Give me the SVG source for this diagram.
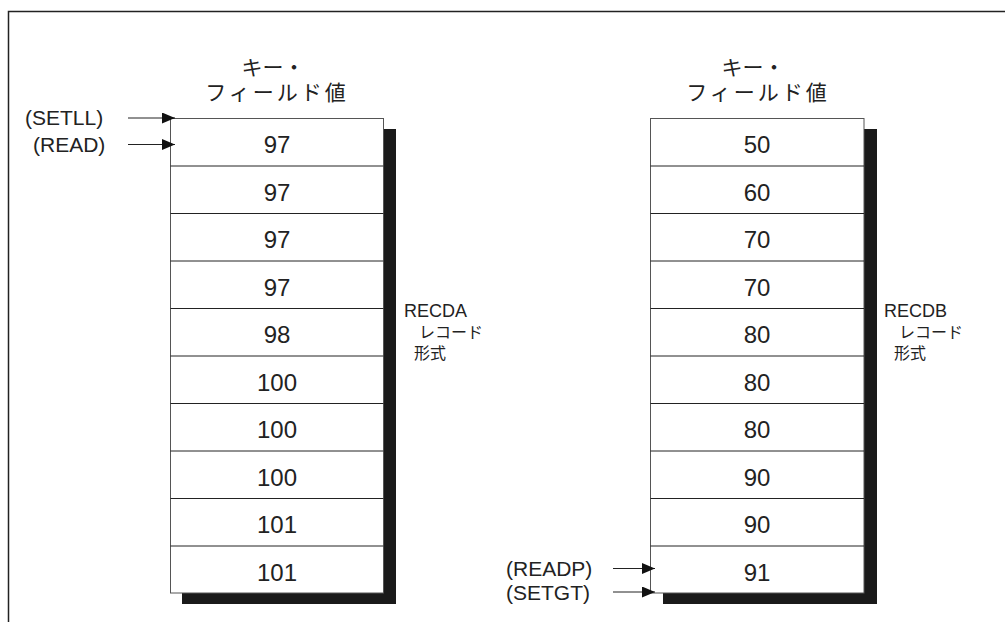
<svg xmlns="http://www.w3.org/2000/svg" width="1005" height="622" viewBox="0 0 1005 622">
<defs>
<marker id="ah" markerWidth="13" markerHeight="11" refX="13" refY="5.5" orient="auto" markerUnits="userSpaceOnUse">
<path d="M0,0 L13,5.5 L0,11 Z" fill="#111"/>
</marker>
<style>
text{font-family:"Liberation Sans","Noto Sans CJK JP",sans-serif;fill:#222}
.num{font-size:24px;text-anchor:middle}
.hdr{font-size:21px;text-anchor:middle}
.lbl{font-size:21px}
.rec{font-size:18px}
.recj{font-size:16px}
.cell{fill:#fff;stroke:#555;stroke-width:1}
.row{stroke:#222;stroke-width:1}
.shadow{fill:#1a1a1a}
.arr{stroke:#222;stroke-width:1;fill:none;marker-end:url(#ah)}
</style>
</defs>
<rect width="1005" height="622" fill="#fff"/>
<path d="M8.5,622 V11.5 H1005" fill="none" stroke="#222" stroke-width="1.5"/>

<g id="tableA">
<text class="hdr" x="273" y="75">キー・</text>
<text class="hdr" x="277" y="100" letter-spacing="3">フィールド値</text>
<path class="shadow" d="M383,129 H396 V604 H182 V593 H383 Z"/>
<rect class="cell" x="170.5" y="118.5" width="213" height="474.5"/>
<g class="row">
<line x1="170.5" y1="166" x2="383.5" y2="166"/>
<line x1="170.5" y1="213.5" x2="383.5" y2="213.5"/>
<line x1="170.5" y1="261" x2="383.5" y2="261"/>
<line x1="170.5" y1="308.5" x2="383.5" y2="308.5"/>
<line x1="170.5" y1="356" x2="383.5" y2="356"/>
<line x1="170.5" y1="403.5" x2="383.5" y2="403.5"/>
<line x1="170.5" y1="451" x2="383.5" y2="451"/>
<line x1="170.5" y1="498.5" x2="383.5" y2="498.5"/>
<line x1="170.5" y1="546" x2="383.5" y2="546"/>
</g>
<text class="num" x="277" y="153">97</text>
<text class="num" x="277" y="200.5">97</text>
<text class="num" x="277" y="248">97</text>
<text class="num" x="277" y="295.5">97</text>
<text class="num" x="277" y="343">98</text>
<text class="num" x="277" y="390.5">100</text>
<text class="num" x="277" y="438">100</text>
<text class="num" x="277" y="485.5">100</text>
<text class="num" x="277" y="533">101</text>
<text class="num" x="277" y="580.5">101</text>
<text class="rec" x="404" y="317">RECDA</text>
<text class="recj" x="419" y="338">レコード</text>
<text class="recj" x="414" y="359">形式</text>
</g>

<g id="tableB">
<text class="hdr" x="753" y="75">キー・</text>
<text class="hdr" x="758" y="100" letter-spacing="3">フィールド値</text>
<path class="shadow" d="M864,129 H877 V604 H663 V593 H864 Z"/>
<rect class="cell" x="650.5" y="118.5" width="213.5" height="474.5"/>
<g class="row">
<line x1="650.5" y1="166" x2="864" y2="166"/>
<line x1="650.5" y1="213.5" x2="864" y2="213.5"/>
<line x1="650.5" y1="261" x2="864" y2="261"/>
<line x1="650.5" y1="308.5" x2="864" y2="308.5"/>
<line x1="650.5" y1="356" x2="864" y2="356"/>
<line x1="650.5" y1="403.5" x2="864" y2="403.5"/>
<line x1="650.5" y1="451" x2="864" y2="451"/>
<line x1="650.5" y1="498.5" x2="864" y2="498.5"/>
<line x1="650.5" y1="546" x2="864" y2="546"/>
</g>
<text class="num" x="757" y="153">50</text>
<text class="num" x="757" y="200.5">60</text>
<text class="num" x="757" y="248">70</text>
<text class="num" x="757" y="295.5">70</text>
<text class="num" x="757" y="343">80</text>
<text class="num" x="757" y="390.5">80</text>
<text class="num" x="757" y="438">80</text>
<text class="num" x="757" y="485.5">90</text>
<text class="num" x="757" y="533">90</text>
<text class="num" x="757" y="580.5">91</text>
<text class="rec" x="884" y="317">RECDB</text>
<text class="recj" x="899" y="338">レコード</text>
<text class="recj" x="894" y="359">形式</text>
</g>

<g id="labels">
<text class="lbl" x="25" y="125">(SETLL)</text>
<text class="lbl" x="33" y="152">(READ)</text>
<text class="lbl" x="506" y="576">(READP)</text>
<text class="lbl" x="506" y="600">(SETGT)</text>
</g>

<g id="connectors">
<line class="arr" x1="128" y1="118" x2="175" y2="118"/>
<line class="arr" x1="128" y1="144.5" x2="175" y2="144.5"/>
<line class="arr" x1="613" y1="568.5" x2="655" y2="568.5"/>
<line class="arr" x1="613" y1="592" x2="655" y2="592"/>
</g>
</svg>
